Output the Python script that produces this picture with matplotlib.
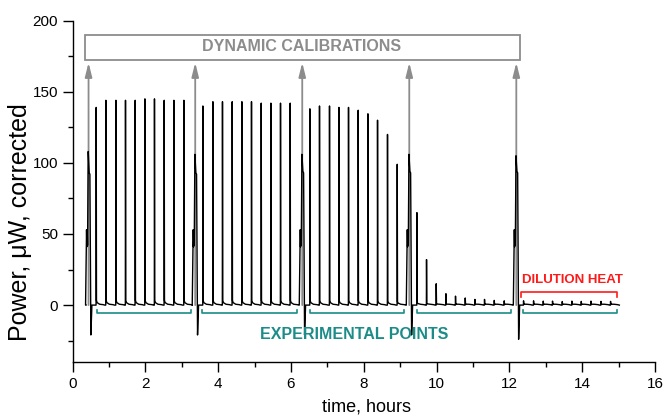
import matplotlib
matplotlib.use("Agg")
import matplotlib.pyplot as plt
from matplotlib.ticker import MultipleLocator

plt.rcParams['font.family'] = ['Liberation Sans', 'DejaVu Sans']

# calibration pulses (time in hours, power in uW)
cal_times = [0.44, 3.37, 6.31, 9.25, 12.19]
cal_peak = [108, 106, 106, 106, 105]
cal_plateau = [93, 93, 94, 94, 94]
cal_dip = [-21, -21, -21, -21, -24]

# injection peaks
inj_times = [0.646, 0.912, 1.187, 1.451, 1.717, 1.984, 2.247, 2.514, 2.780, 3.055,
             3.577, 3.852, 4.115, 4.382, 4.648, 4.912, 5.179, 5.445, 5.709, 5.975,
             6.516, 6.780, 7.055, 7.313, 7.577, 7.843, 8.110, 8.374, 8.648, 8.915,
             9.456, 9.720, 9.986, 10.253, 10.516, 10.783, 11.049, 11.313, 11.580, 11.854,
             12.385, 12.660, 12.926, 13.181, 13.448, 13.714, 13.970, 14.236, 14.511, 14.775]
inj_heights = [139, 144, 144, 144, 144, 145, 145, 144, 144, 144,
               140, 143, 143, 143, 143, 143, 142, 142, 142, 142,
               138, 140, 140, 139, 139, 137, 134.5, 130, 120, 99,
               65, 32, 15, 8, 6.3, 5, 4, 4, 3.3, 3,
               3, 3, 2.8, 2.8, 2.5, 2.8, 2.6, 2.8, 2.6, 2.6]

trace_start, trace_end = 0.37, 15.02

# bracket ranges
exp_ranges = [(0.665, 3.255), (3.566, 6.176), (6.525, 9.115), (9.456, 12.047), (12.368, 14.967)]
dil_range = (12.33, 14.95)

# build the trace from the events
events = []
for t, pk, pl, dp in zip(cal_times, cal_peak, cal_plateau, cal_dip):
    pts = [(-0.082, 0), (-0.055, 53), (-0.046, 41), (-0.036, 52), (-0.027, 42),
           (-0.009, pk), (0.018, pl), (0.037, pl - 1), (0.064, dp), (0.092, 0)]
    events.append([(t + dt, v) for dt, v in pts])
for t, h in zip(inj_times, inj_heights):
    pts = [(0, 0), (0.004, h), (0.012, 0.02 * h + 0.4), (0.03, 0.008 * h + 0.6),
           (0.1, 0.6), (0.2, 0.3), (0.24, 0)]
    events.append([(t + dt, v) for dt, v in pts])
events.sort(key=lambda e: e[0][0])

tx = [trace_start]
ty = [0]
for e in events:
    for t, v in e:
        tx.append(t)
        ty.append(v)
tx.append(trace_end)
ty.append(0)

fig = plt.figure(figsize=(6.66, 4.18), dpi=100)
ax = fig.add_axes([0.1089, 0.134, 0.8746, 0.8166])

gray = '#8c8c8c'
teal = '#1b8c88'
red = '#ff1a1a'

# calibration arrows
for t in cal_times:
    ax.annotate('', xy=(t, 170.5), xytext=(t, 0),
                arrowprops=dict(arrowstyle='-|>,head_length=0.6,head_width=0.15',
                                color=gray, lw=1.3, shrinkA=0, shrinkB=0,
                                mutation_scale=14), zorder=1)

ax.plot(tx, ty, color='black', lw=1.0, zorder=3)

# calibration box
ax.add_patch(plt.Rectangle((0.33, 172.6), 11.95, 17.4, fill=False,
                           edgecolor=gray, lw=1.3, zorder=2))
ax.text(6.29, 181.5, 'DYNAMIC CALIBRATIONS', color=gray, fontsize=11.5,
        fontweight='bold', ha='center', va='center')

# experimental point brackets
for a, b in exp_ranges:
    ax.plot([a, a, b, b], [-3.5, -5.8, -5.8, -3.5], color=teal, lw=1.2)
ax.text(7.75, -20.7, 'EXPERIMENTAL POINTS', color=teal, fontsize=11.5,
        fontweight='bold', ha='center', va='center')

# dilution bracket
a, b = dil_range
ax.plot([a, a, b, b], [5.8, 8.9, 8.9, 5.8], color=red, lw=1.2)
ax.text(13.73, 17.9, 'DILUTION HEAT', color=red, fontsize=9.5,
        fontweight='bold', ha='center', va='center')

ax.set_xlim(0, 16)
ax.set_ylim(-40, 200)
ax.xaxis.set_major_locator(MultipleLocator(2))
ax.xaxis.set_minor_locator(MultipleLocator(1))
ax.yaxis.set_major_locator(MultipleLocator(50))
ax.yaxis.set_minor_locator(MultipleLocator(25))
ax.tick_params(which='major', length=7, width=1.0, labelsize=11)
ax.tick_params(which='minor', length=3.5, width=1.0)
for s in ['top', 'right']:
    ax.spines[s].set_visible(False)
for s in ['left', 'bottom']:
    ax.spines[s].set_linewidth(1.0)

ax.set_xlabel('time, hours', fontsize=13)
ax.xaxis.set_label_coords(0.504, -0.108)
ax.set_ylabel('Power, \u03bcW, corrected', fontsize=18)
ax.yaxis.set_label_coords(-0.069, 0.41)

fig.savefig('out.png', dpi=100)
